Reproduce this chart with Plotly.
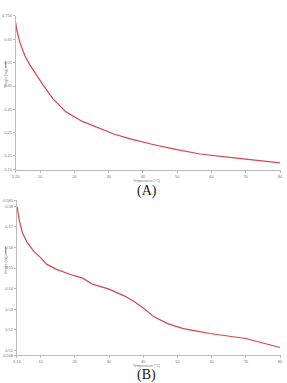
import plotly.graph_objects as go

# ---- data ----
temp_a = [2.9, 3.23, 4.2, 5.63, 7.06, 8.0, 9.43, 10.86, 13.7, 17.4, 22.3, 27.1, 31.7, 36.6, 42.3, 48.9, 56.6, 66.0, 80.0]
weight_a = [0.722, 0.688, 0.633, 0.578, 0.54, 0.519, 0.485, 0.455, 0.396, 0.341, 0.298, 0.269, 0.243, 0.222, 0.201,
            0.18, 0.158, 0.142, 0.12]

temp_b = [3.14, 3.23, 3.71, 4.66, 6.09, 8.0, 9.91, 11.8, 14.66, 18.49, 22.29, 25.14, 30.0, 34.57, 37.43,
          40.29, 43.14, 47.14, 51.71, 56.57, 59.43, 70.0, 80.0]
weight_b = [0.5797, 0.5783, 0.5735, 0.5672, 0.5624, 0.5581, 0.5552, 0.5518, 0.5494, 0.5470, 0.5451, 0.5422,
            0.5398, 0.5364, 0.5336, 0.5302, 0.5263, 0.5230, 0.5206, 0.5191, 0.5182, 0.5158, 0.5114]

x_ticks = [10, 20, 30, 40, 50, 60, 70, 80]
x_tick_text = ["10", "20", "30", "40", "50", "60", "70", "80"]
ya_ticks = [0.15, 0.25, 0.35, 0.45, 0.55, 0.65]
yb_ticks = [0.51, 0.52, 0.53, 0.54, 0.55, 0.56, 0.57, 0.58]

W, H = 287, 383
def fx(px): return px / W
def fy(py): return 1 - py / H

red = "#d8454d"
fig = go.Figure()
fig.add_trace(go.Scatter(x=temp_a, y=weight_a, mode="lines", line=dict(color=red, width=1.2),
                         xaxis="x", yaxis="y", showlegend=False))
fig.add_trace(go.Scatter(x=temp_b, y=weight_b, mode="lines", line=dict(color=red, width=1.2),
                         xaxis="x2", yaxis="y2", showlegend=False))

tickfont = dict(size=4, color="#777", family="Liberation Sans")
axcommon = dict(showgrid=False, zeroline=False, showline=True, linecolor="#bbb", linewidth=1,
                ticks="outside", ticklen=2, tickcolor="#bbb", tickfont=tickfont)

fig.update_layout(
    width=W, height=H, margin=dict(l=0, r=0, t=0, b=0),
    paper_bgcolor="white", plot_bgcolor="white",
    xaxis=dict(domain=[fx(12), fx(283)], range=[2.9, 80.3], anchor="y",
               tickvals=[2.9] + x_ticks, ticktext=["3.20"] + x_tick_text, **axcommon),
    yaxis=dict(domain=[fy(169), fy(13)], range=[0.09, 0.752], anchor="x",
               tickvals=[0.09] + ya_ticks + [0.752], ticktext=["0.10"] + [f"{v:.2f}" for v in ya_ticks] + ["0.750"],
               **axcommon),
    xaxis2=dict(domain=[fx(13), fx(283)], range=[3.0, 80.3], anchor="y2",
                tickvals=[3.0] + x_ticks, ticktext=["3.14"] + x_tick_text, **axcommon),
    yaxis2=dict(domain=[fy(357), fy(200)], range=[0.5076, 0.5829], anchor="x2",
                tickvals=[0.5076] + yb_ticks + [0.5829], ticktext=["0.508"] + [f"{v:.2f}" for v in yb_ticks] + ["0.583"],
                **axcommon),
)

small = dict(size=3.5, color="#777", family="Liberation Sans")
base = dict(xref="paper", yref="paper", showarrow=False, xanchor="center", yanchor="middle")
ann = []
ann.append(dict(text="Temperature (°C)", x=fx(146), y=fy(180.5), font=small, **base))
ann.append(dict(text="Temperature (°C)", x=fx(146), y=fy(368), font=small, **base))
ann.append(dict(text="Weight (mg)", x=fx(1.8), y=fy(76), font=small, textangle=-90, **base))
ann.append(dict(text="Weight (mg)", x=fx(1.8), y=fy(265), font=small, textangle=-90, **base))
cap = dict(size=14, color="#222", family="Liberation Serif")
ann.append(dict(text="(A)", x=fx(146), y=fy(190), font=cap, **base))
ann.append(dict(text="(B)", x=fx(146), y=fy(377), font=cap, **base))
fig.update_layout(annotations=ann)

fig.add_shape(type="line", xref="paper", yref="paper", x0=fx(1.8), x1=fx(1.8), y0=fy(59), y1=fy(66),
              line=dict(color=red, width=1))
fig.add_shape(type="line", xref="paper", yref="paper", x0=fx(1.8), x1=fx(1.8), y0=fy(247), y1=fy(255),
              line=dict(color=red, width=1))

fig.write_html("out.html", config={"displayModeBar": False})
